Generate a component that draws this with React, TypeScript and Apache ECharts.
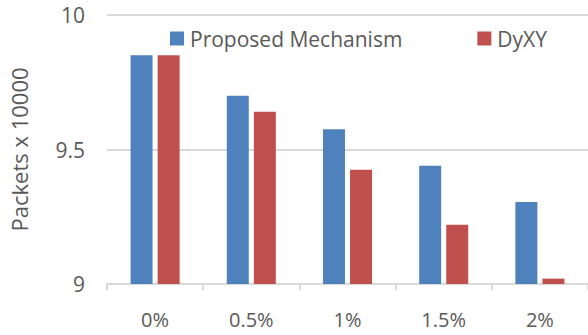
import React, { useEffect, useRef } from "react";
import * as echarts from "echarts";

const categories = ["0%", "0.5%", "1%", "1.5%", "2%"];
const proposedValues = [9.85, 9.7, 9.575, 9.44, 9.305];
const dyxyValues = [9.85, 9.64, 9.425, 9.22, 9.02];
const seriesNames = ["Proposed Mechanism", "DyXY"];
const yTicks = { min: 9, max: 10, interval: 0.5 };

const FONT = "Open Sans";
const TEXT = "#595959";
const GRID = "#d9d9d9";

export default function App() {
  const ref = useRef<HTMLDivElement>(null);

  useEffect(() => {
    document.body.style.margin = "0";
    if (!ref.current) return;
    const chart = echarts.init(ref.current, undefined, { renderer: "svg" });
    chart.setOption({
      animation: false,
      backgroundColor: "#ffffff",
      textStyle: { fontFamily: FONT, color: TEXT },
      legend: {
        left: 165,
        top: 23,
        itemWidth: 14,
        itemHeight: 14,
        itemGap: 75,
        icon: "rect",
        textStyle: { fontFamily: FONT, fontSize: 21, color: TEXT, padding: [0, 0, 0, 1] },
        data: seriesNames,
      },
      grid: { left: 106, top: 15, bottom: 51, right: -3, containLabel: false },
      xAxis: {
        type: "category",
        data: categories,
        axisLine: { show: true, lineStyle: { color: GRID, width: 2 } },
        axisTick: { show: true, length: 6, lineStyle: { color: GRID, width: 2 } },
        axisLabel: { fontFamily: FONT, fontSize: 20, color: TEXT, margin: 25 },
      },
      yAxis: {
        type: "value",
        min: yTicks.min,
        max: yTicks.max,
        interval: yTicks.interval,
        name: "Packets x 10000",
        nameLocation: "middle",
        nameGap: 77,
        nameTextStyle: { fontFamily: FONT, fontSize: 22, color: TEXT },
        axisLine: { show: false },
        axisTick: { show: false },
        splitLine: { lineStyle: { color: GRID, width: 2 } },
        axisLabel: { fontFamily: FONT, fontSize: 21, color: TEXT, margin: 22 },
      },
      series: [
        {
          name: seriesNames[0],
          type: "bar",
          data: proposedValues,
          barWidth: 22,
          barGap: "23%",
          itemStyle: { color: "#4f81bd" },
        },
        {
          name: seriesNames[1],
          type: "bar",
          data: dyxyValues,
          barWidth: 22,
          barGap: "23%",
          itemStyle: { color: "#c0504d" },
        },
      ],
    });
    return () => chart.dispose();
  }, []);

  return <div ref={ref} style={{ width: 588, height: 335 }} />;
}
